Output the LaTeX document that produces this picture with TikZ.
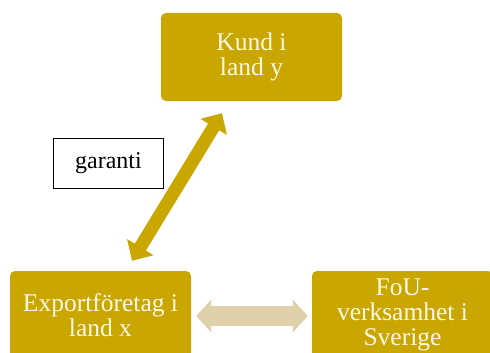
\documentclass[tikz,border=0pt]{standalone}
\usepackage{fontspec}
\setmainfont{Liberation Serif}
\usetikzlibrary{arrows.meta,calc}
\definecolor{gold}{RGB}{201,166,0}
\definecolor{tan}{RGB}{224,208,170}
\definecolor{cream}{RGB}{252,248,232}
\begin{document}
\begin{tikzpicture}[x=1pt,y=-1pt,
  goldbox/.style={fill=gold,rounded corners=5pt,minimum width=181pt,minimum height=88pt,
    text=cream,align=center,inner sep=0pt,font=\fontsize{25.5}{25}\selectfont},
  labelbox/.style={draw=black,line width=0.8pt,fill=white,minimum width=110pt,minimum height=50pt,
    inner sep=0pt,font=\fontsize{24}{25}\selectfont},
  diagarrow/.style={draw=gold,line width=13pt,{Triangle[width=30pt,length=16pt]}-{Triangle[width=30pt,length=16pt]}},
  horarrow/.style={draw=tan,line width=20pt,{Triangle[width=32pt,length=15pt]}-{Triangle[width=32pt,length=15pt]}}]
\clip (0,0) rectangle (490,353);
\useasboundingbox (0,0) rectangle (490,353);
\node[goldbox] (kund) at (251.5,57) {Kund i\\land y};
\node[goldbox] (exp) at (100.5,315) {Exportföretag i\\land x};
\node[goldbox] (fou) at (402.5,315) {FoU-\\verksamhet i\\Sverige};
\node[labelbox] (gar) at (108.5,163) {garanti};
\coordinate (d1) at ($(exp.north)+(31.5,-10)$);
\coordinate (d2) at ($(kund.south)+(-29.5,12)$);
\draw[diagarrow] (d1) -- (d2);
\coordinate (h1) at ($(exp.east)+(5,1)$);
\coordinate (h2) at ($(fou.west)+(-4,1)$);
\draw[horarrow] (h1) -- (h2);
\end{tikzpicture}
\end{document}
